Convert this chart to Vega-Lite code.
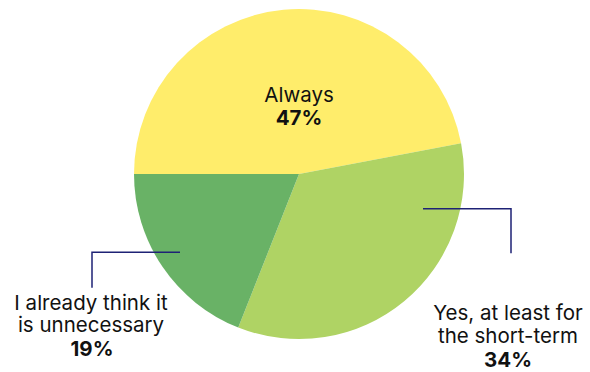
{
  "$schema": "https://vega.github.io/schema/vega-lite/v6.json",
  "width": 590,
  "height": 372,
  "autosize": {"type": "fit", "contains": "padding"},
  "padding": 0,
  "background": "white",
  "config": {"view": {"stroke": null}},
  "datasets": {
    "slices": [
      {"answer": "Always", "share": 0.47, "idx": 1},
      {"answer": "Yes, at least for the short-term", "share": 0.34, "idx": 2},
      {"answer": "I already think it is unnecessary", "share": 0.19, "idx": 3}
    ],
    "nameLines": [
      {"text": "Always", "x": 0, "y": 79},
      {"text": "I already think it", "x": -208, "y": -131},
      {"text": "is unnecessary", "x": -208, "y": -154},
      {"text": "Yes, at least for", "x": 209, "y": -141},
      {"text": "the short-term", "x": 209, "y": -165}
    ],
    "pcts": [
      {"share": 0.47, "x": 0, "y": 56},
      {"share": 0.19, "x": -207, "y": -178},
      {"share": 0.34, "x": 209, "y": -189}
    ],
    "leaders": [
      {"id": "left", "step": 1, "x": -119, "y": -79},
      {"id": "left", "step": 2, "x": -207, "y": -79},
      {"id": "left", "step": 3, "x": -207, "y": -115},
      {"id": "right", "step": 1, "x": 124, "y": -35},
      {"id": "right", "step": 2, "x": 212, "y": -35},
      {"id": "right", "step": 3, "x": 212, "y": -80}
    ]
  },
  "layer": [
    {
      "data": {"name": "slices"},
      "mark": {"type": "arc", "radius": 165},
      "encoding": {
        "x": {"datum": 0, "type": "quantitative", "scale": {"domain": [-299, 291], "nice": false, "zero": false}, "axis": null},
        "y": {"datum": 0, "type": "quantitative", "scale": {"domain": [-196, 176], "nice": false, "zero": false}, "axis": null},
        "theta": {"field": "share", "type": "quantitative", "stack": true, "scale": {"range": [4.71239, 10.99557]}},
        "order": {"field": "idx", "type": "quantitative"},
        "color": {
          "field": "answer",
          "type": "nominal",
          "legend": null,
          "scale": {
            "domain": ["Always", "Yes, at least for the short-term", "I already think it is unnecessary"],
            "range": ["#FFED6B", "#AFD364", "#69B266"]
          }
        }
      }
    },
    {
      "data": {"name": "leaders"},
      "mark": {"type": "line", "color": "#1E2275", "strokeWidth": 1.5},
      "encoding": {
        "x": {"field": "x", "type": "quantitative", "axis": null},
        "y": {"field": "y", "type": "quantitative", "axis": null},
        "detail": {"field": "id"},
        "order": {"field": "step", "type": "quantitative"}
      }
    },
    {
      "data": {"name": "nameLines"},
      "mark": {"type": "text", "font": "Inter", "fontSize": 20.5, "color": "#111111", "align": "center", "baseline": "middle"},
      "encoding": {
        "x": {"field": "x", "type": "quantitative", "axis": null},
        "y": {"field": "y", "type": "quantitative", "axis": null},
        "text": {"field": "text"}
      }
    },
    {
      "data": {"name": "pcts"},
      "mark": {"type": "text", "font": "Inter", "fontSize": 20.5, "fontWeight": "bold", "color": "#111111", "align": "center", "baseline": "middle"},
      "encoding": {
        "x": {"field": "x", "type": "quantitative", "axis": null},
        "y": {"field": "y", "type": "quantitative", "axis": null},
        "text": {"field": "share", "type": "quantitative", "format": ".0%"}
      }
    }
  ]
}
